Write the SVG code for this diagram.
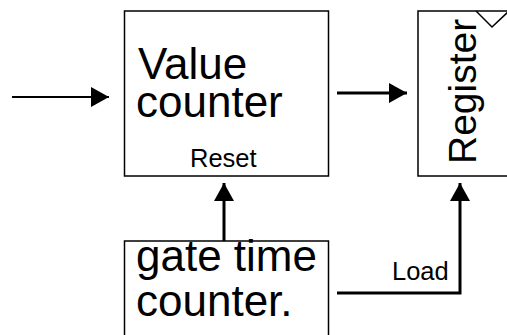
<svg xmlns="http://www.w3.org/2000/svg" width="507" height="335" viewBox="0 0 507 335">
<defs>
<style>
.box{fill:#fff;stroke:#000;stroke-width:1.5}
.big{font-family:"Liberation Sans",Arial,sans-serif;font-size:44px;fill:#000}
.small{font-family:"Liberation Sans",Arial,sans-serif;font-size:25.5px;fill:#000}
.wire{fill:none;stroke:#000}
</style>
<marker id="ah" markerUnits="userSpaceOnUse" markerWidth="20" markerHeight="20" viewBox="0 0 18 20" refX="18" refY="10" orient="auto">
<path d="M0,0 L18,10 L0,20 Z" fill="#000"/>
</marker>
</defs>
<rect width="507" height="335" fill="#fff"/>
<g id="value-counter">
<rect class="box" x="124.5" y="11" width="204" height="165"/>
<text class="big" x="138" y="79">Value</text>
<text class="big" x="136" y="117">counter</text>
<text class="small" x="190" y="167">Reset</text>
</g>
<g id="register">
<rect class="box" x="418" y="11" width="95" height="165"/>
<polyline class="wire" stroke-width="1.5" points="476,11 492,27 509,11"/>
<text class="big" style="font-size:39px" transform="translate(476,164) rotate(-90)">Register</text>
</g>
<g id="gate-time-counter">
<rect class="box" x="124.5" y="241" width="204" height="100"/>
<text class="big" x="136" y="271">gate time</text>
<text class="big" x="136" y="316">counter.</text>
</g>
<g id="connectors">
<line class="wire" stroke-width="2" x1="12" y1="97" x2="109" y2="97" marker-end="url(#ah)"/>
<line class="wire" stroke-width="3" x1="337" y1="93" x2="407" y2="93" marker-end="url(#ah)"/>
<line class="wire" stroke-width="3" x1="224" y1="241" x2="224" y2="183" marker-end="url(#ah)"/>
<polyline class="wire" stroke-width="3" points="337,293 460,293 460,183" marker-end="url(#ah)"/>
<text class="small" x="392" y="280">Load</text>
</g>
</svg>
